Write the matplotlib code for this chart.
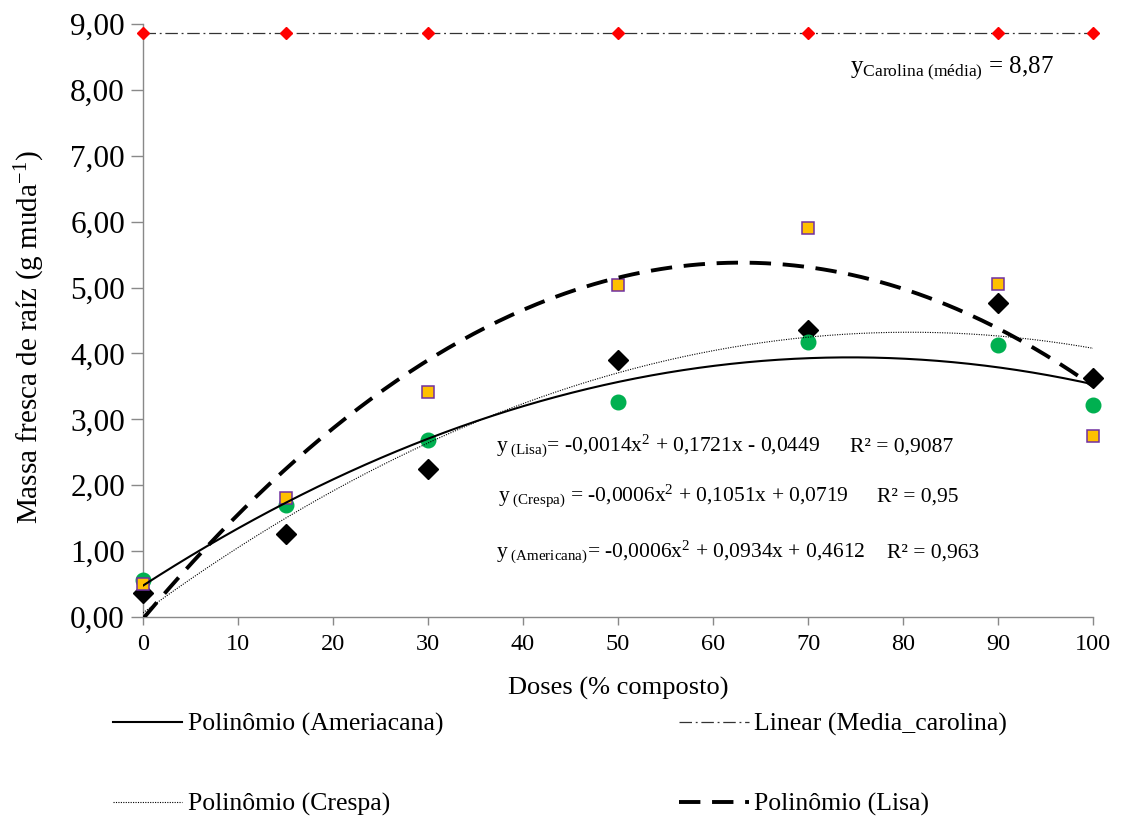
import numpy as np
import matplotlib
matplotlib.use("Agg")
import matplotlib.pyplot as plt
from matplotlib.ticker import FuncFormatter

plt.rcParams['font.family'] = ['Liberation Serif', 'DejaVu Serif']
plt.rcParams['mathtext.fontset'] = 'custom'
plt.rcParams['mathtext.rm'] = 'Liberation Serif'
plt.rcParams['mathtext.it'] = 'Liberation Serif:italic'
plt.rcParams['mathtext.bf'] = 'Liberation Serif:bold'
plt.rcParams['mathtext.default'] = 'regular'

# ---- data ----
doses = [0, 15, 30, 50, 70, 90, 100]
carolina = [8.87, 8.87, 8.87, 8.87, 8.87, 8.87, 8.87]
americana = [0.56, 1.70, 2.68, 3.27, 4.18, 4.13, 3.21]   # green circles
crespa = [0.37, 1.26, 2.24, 3.90, 4.35, 4.76, 3.62]      # black diamonds
lisa = [0.50, 1.80, 3.41, 5.04, 5.91, 5.05, 2.75]        # orange squares

yticks = [0, 1, 2, 3, 4, 5, 6, 7, 8, 9]
xticks = [0, 10, 20, 30, 40, 50, 60, 70, 80, 90, 100]

lbl_amer = "Polinômio (Ameriacana)"
lbl_car = "Linear (Media_carolina)"
lbl_cre = "Polinômio (Crespa)"
lbl_lisa = "Polinômio (Lisa)"

eq_lisa = r"y$_{\ (Lisa)}$= -0,0014x$^{2}$ + 0,1721x - 0,0449"
eq_cre = r"y$_{\ (Crespa)}$ = -0,0006x$^{2}$ + 0,1051x + 0,0719"
eq_amer = r"y$_{\ (Americana)}$= -0,0006x$^{2}$ + 0,0934x + 0,4612"
r2_lisa = "R² = 0,9087"
r2_cre = "R² = 0,95"
r2_amer = "R² = 0,963"
eq_car = r"y$_{Carolina\ (média)}$ = 8,87"

W, H = 1121, 818
fig = plt.figure(figsize=(W / 100, H / 100), dpi=100)
ax = fig.add_axes([143 / W, 1 - 617 / H, 950 / W, 593 / H])

x = np.array(doses, dtype=float)
xs = np.linspace(0, 100, 300)

# markers
ax.plot(doses, crespa, linestyle='none', marker='D', ms=10, color='black',
        clip_on=False, zorder=3)
ax.plot(doses, americana, linestyle='none', marker='o', ms=10.5, color='#00B050',
        clip_on=False, zorder=4)
ax.plot(doses, lisa, linestyle='none', marker='s', ms=9, markerfacecolor='#FFC000',
        markeredgecolor='#7030A0', markeredgewidth=1.1, clip_on=False, zorder=5)
ax.plot(doses, carolina, linestyle='none', marker='D', ms=6.5, color='#FF0000',
        clip_on=False, zorder=6)

# trendlines (fitted from data)
p_amer = np.polyfit(x, americana, 2)
p_cre = np.polyfit(x, crespa, 2)
p_lisa = np.polyfit(x, lisa, 2)
p_car = np.polyfit(x, carolina, 1)

l_amer, = ax.plot(xs, np.polyval(p_amer, xs), color='black', lw=1.5, zorder=7,
                  label=lbl_amer)
l_cre, = ax.plot(xs, np.polyval(p_cre, xs), color='black', lw=0.8, zorder=7,
                 linestyle=(0, (1, 1.2)), label=lbl_cre)
l_lisa, = ax.plot(xs, np.polyval(p_lisa, xs), color='black', lw=2.8, zorder=7,
                  linestyle=(0, (5.5, 3)), label=lbl_lisa)
l_car, = ax.plot(xs, np.polyval(p_car, xs), color='#333333', lw=0.9, zorder=5,
                 linestyle=(0, (10, 3, 1.5, 3)), label=lbl_car)

ax.set_xlim(0, 100)
ax.set_ylim(0, 9)
ax.set_xticks(xticks)
ax.set_yticks(yticks)
ax.yaxis.set_major_formatter(FuncFormatter(lambda v, p: f"{v:.2f}".replace('.', ',')))
for s in ['top', 'right']:
    ax.spines[s].set_visible(False)
for s in ['left', 'bottom']:
    ax.spines[s].set_color('#898989')
    ax.spines[s].set_linewidth(1.0)
ax.tick_params(axis='y', direction='out', length=9, width=1, color='#898989',
               labelsize=22.5, pad=4)
ax.tick_params(axis='x', direction='out', length=6, width=1, color='#898989',
               labelsize=17.5, pad=6)

ax.set_xlabel("Doses (% composto)", fontsize=19)
ax.xaxis.set_label_coords(0.5, (617 - 688) / 593)
ax.xaxis.label.set_va('center')
ax.set_ylabel("Massa fresca de raíz (g muda$^{-1}$)", fontsize=21)
ax.yaxis.set_label_coords((30 - 143) / 950, (617 - 337) / 593)
ax.yaxis.label.set_va('center')

# equations
efs = 15.5
fig.text(496 / W, 1 - 452 / H, eq_lisa, fontsize=efs, va='baseline', ha='left')
fig.text(850 / W, 1 - 452 / H, r2_lisa, fontsize=efs, va='baseline', ha='left')
fig.text(498 / W, 1 - 502 / H, eq_cre, fontsize=efs, va='baseline', ha='left')
fig.text(877 / W, 1 - 502 / H, r2_cre, fontsize=efs, va='baseline', ha='left')
fig.text(496 / W, 1 - 558 / H, eq_amer, fontsize=efs, va='baseline', ha='left')
fig.text(887 / W, 1 - 558 / H, r2_amer, fontsize=efs, va='baseline', ha='left')
fig.text(850 / W, 1 - 73 / H, eq_car, fontsize=18, va='baseline', ha='left')

leg = fig.legend([l_amer, l_cre, l_car, l_lisa], [lbl_amer, lbl_cre, lbl_car, lbl_lisa],
                 ncol=2, loc='upper left', bbox_to_anchor=(113 / W, 1 - 713 / H),
                 frameon=False, fontsize=18.5, handlelength=2.7, handletextpad=0.2,
                 columnspacing=9.2, labelspacing=2.2, borderpad=0, borderaxespad=0)

fig.savefig("out.png", dpi=100)
